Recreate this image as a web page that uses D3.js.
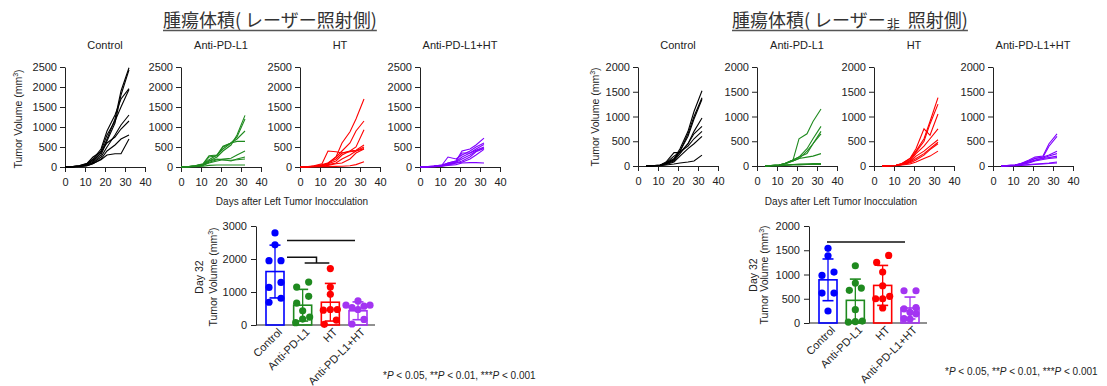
<!DOCTYPE html>
<html>
<head>
<meta charset="utf-8">
<script src="https://cdn.jsdelivr.net/npm/d3@7"></script>
<style>
  body { margin: 0; background: #fff; }
  svg { font-family: "Liberation Sans", Arial, sans-serif; }
</style>
</head>
<body>
<svg id="chart" width="1107" height="386"></svg>
<script>
// ---- data ----
const groups = ["Control", "Anti-PD-L1", "HT", "Anti-PD-L1+HT"];
const dayTicks = [0, 10, 20, 30, 40];
const leftVolTicks = [0, 500, 1000, 1500, 2000, 2500];
const rightVolTicks = [0, 500, 1000, 1500, 2000];
const leftBarTicks = [0, 1000, 2000, 3000];
const rightBarTicks = [0, 500, 1000, 1500, 2000];

const leftDays = [0, 4, 7, 11, 14, 18, 21, 25, 28, 32];
const rightDays = [4, 7, 11, 14, 18, 21, 25, 28, 32];

// laser-irradiated side, one row per mouse
const leftControl = [
  [0, 10, 25, 60, 150, 350, 700, 1200, 1900, 2480],
  [0, 8, 20, 50, 120, 300, 650, 1100, 1800, 2430],
  [0, 12, 30, 80, 200, 450, 900, 1300, 1700, 1960],
  [0, 10, 25, 70, 180, 400, 800, 1150, 1500, 1940],
  [0, 8, 20, 40, 100, 250, 500, 800, 1050, 1300],
  [0, 10, 30, 90, 250, 380, 600, 750, 950, 1150],
  [0, 5, 15, 30, 80, 200, 400, 550, 700, 800],
  [0, 6, 15, 35, 90, 180, 300, 330, 330, 700]
];
const leftAnti = [
  [0, 10, 30, 60, 150, 250, 400, 550, 800, 1290],
  [0, 10, 30, 70, 180, 300, 450, 600, 750, 1200],
  [0, 10, 25, 60, 250, 280, 500, 600, 700, 900],
  [0, 10, 30, 80, 280, 300, 520, 600, 640, 640],
  [0, 8, 20, 50, 120, 180, 200, 220, 300, 400],
  [0, 8, 20, 50, 150, 200, 180, 150, 200, 250],
  [0, 5, 15, 40, 100, 150, 180, 170, 180, 200],
  [0, 5, 10, 20, 40, 50, 50, 50, 50, 50]
];
const leftHT = [
  [0, 10, 20, 40, 80, 250, 600, 880, 1200, 1700],
  [0, 10, 20, 60, 100, 250, 400, 600, 900, 1150],
  [0, 10, 30, 80, 400, 380, 350, 400, 500, 930],
  [0, 8, 20, 40, 80, 150, 300, 400, 420, 550],
  [0, 8, 20, 40, 100, 200, 350, 380, 400, 500],
  [0, 5, 15, 30, 60, 100, 200, 300, 400, 460],
  [0, 5, 10, 20, 40, 80, 100, 200, 350, 450],
  [0, 3, 5, 10, 10, 15, 20, 30, 60, 130]
];
const leftCombo = [
  [0, 10, 25, 50, 100, 150, 400, 450, 550, 720],
  [0, 10, 25, 50, 250, 200, 300, 400, 500, 600],
  [0, 10, 20, 40, 100, 150, 350, 350, 450, 560],
  [0, 8, 20, 40, 80, 130, 250, 350, 420, 500],
  [0, 8, 15, 30, 70, 120, 200, 300, 400, 480],
  [0, 5, 15, 30, 60, 100, 150, 250, 380, 460],
  [0, 5, 10, 25, 50, 100, 120, 200, 300, 440],
  [0, 5, 10, 20, 40, 60, 100, 110, 110, 100]
];

// non-irradiated side
const rightControl = [
  [0, 5, 20, 60, 150, 350, 700, 1100, 1520],
  [0, 5, 20, 50, 120, 300, 650, 1000, 1380],
  [0, 5, 15, 50, 130, 300, 600, 950, 1350],
  [0, 5, 15, 80, 270, 270, 450, 700, 970],
  [0, 5, 15, 40, 100, 250, 450, 650, 800],
  [0, 5, 15, 60, 200, 280, 400, 550, 700],
  [0, 5, 10, 30, 80, 200, 350, 450, 600],
  [0, 3, 5, 20, 40, 60, 80, 100, 220]
];
const rightAnti = [
  [0, 10, 20, 50, 120, 550, 650, 900, 1150],
  [0, 10, 20, 50, 120, 180, 350, 550, 800],
  [0, 10, 20, 50, 100, 150, 300, 450, 700],
  [0, 10, 20, 50, 120, 180, 250, 450, 650],
  [0, 10, 20, 40, 100, 150, 180, 200, 250],
  [0, 5, 10, 20, 30, 40, 40, 50, 50],
  [0, 5, 10, 20, 30, 30, 40, 40, 40],
  [0, 5, 5, 10, 20, 20, 30, 30, 30]
];
const rightHT = [
  [0, 5, 15, 50, 150, 300, 550, 900, 1380],
  [0, 5, 15, 40, 120, 280, 500, 850, 1250],
  [0, 5, 15, 50, 150, 350, 750, 620, 1050],
  [0, 5, 10, 40, 100, 250, 400, 550, 750],
  [0, 5, 10, 30, 80, 200, 300, 400, 530],
  [0, 5, 10, 30, 80, 150, 250, 350, 480],
  [0, 5, 10, 30, 60, 120, 220, 330, 450],
  [0, 3, 8, 20, 40, 80, 150, 200, 300]
];
const rightCombo = [
  [0, 10, 20, 50, 120, 180, 200, 450, 650],
  [0, 10, 20, 50, 100, 150, 180, 400, 600],
  [0, 10, 20, 40, 100, 150, 180, 220, 300],
  [0, 8, 15, 40, 80, 120, 160, 200, 250],
  [0, 8, 15, 30, 70, 110, 150, 170, 200],
  [0, 5, 10, 30, 60, 100, 130, 150, 170],
  [0, 5, 10, 20, 30, 40, 50, 60, 80],
  [0, 3, 5, 10, 20, 30, 40, 50, 60]
];

// day 32 scatter + mean / SD
const leftDay32 = [
  [2790, 2430, 1950, 1950, 1290, 1140, 810, 690],
  [1300, 1150, 870, 660, 430, 240, 180, 70],
  [1710, 1150, 930, 470, 470, 450, 150, 20],
  [730, 600, 600, 570, 530, 470, 170, 30]
];
const leftMean = [1620, 600, 690, 430];
const leftSD = [800, 480, 570, 270];

const rightDay32 = [
  [1540, 1385, 1050, 980, 617, 617, 247],
  [1180, 823, 720, 673, 274, 40, 30, 20],
  [1393, 1249, 1050, 768, 549, 500, 500, 309],
  [665, 665, 320, 290, 220, 190, 90, 80]
];
const rightMean = [890, 467, 775, 309];
const rightSD = [430, 438, 412, 226];

// ---- drawing ----
const lineColors = ["#000000", "#1f8a1f", "#ff0000", "#7f00ff"];
const barColors = ["#0000ff", "#1f8a1f", "#ff0000", "#a334f2"];
const ink = "#222";
const fmt = d3.format("d");

const svg = d3.select("#chart");

function styleAxis(g) {
  g.selectAll("path, line").attr("stroke", ink).attr("stroke-width", 1);
  g.selectAll("text").attr("fill", ink).attr("font-size", 11);
}

function titleJP(x, parts) {
  const t = svg.append("text")
    .attr("x", x).attr("y", 27)
    .attr("font-family", "'Noto Sans CJK JP', sans-serif")
    .attr("font-size", 18).attr("fill", "#333");
  parts.forEach(p => {
    const s = t.append("tspan").text(p.text);
    if (p.small) s.attr("font-size", 13).attr("dy", 2).attr("dx", 1);
    else if (p.after) s.attr("dy", -2).attr("dx", 4);
  });
  const w = t.node().getComputedTextLength();
  svg.append("line")
    .attr("x1", x).attr("x2", x + w + (parts.length > 1 ? 5 : 0))
    .attr("y1", 30.5).attr("y2", 30.5)
    .attr("stroke", "#555").attr("stroke-width", 1.3);
}

function growthPanels(opt) {
  const sets = opt.curves;
  opt.panelX.forEach((x0, gi) => {
    const x = d3.scaleLinear().domain([0, 40]).range([x0, x0 + 80]);
    const y = d3.scaleLinear().domain([0, opt.yMax]).range([opt.bottom, 67]);
    const g = svg.append("g");

    g.append("g")
      .attr("transform", `translate(0,${opt.bottom})`)
      .call(d3.axisBottom(x).tickValues(dayTicks).tickFormat(fmt).tickSize(5).tickSizeOuter(0).tickPadding(6))
      .call(styleAxis);
    g.append("g")
      .attr("transform", `translate(${x0},0)`)
      .call(d3.axisLeft(y).tickValues(opt.yTicks).tickFormat(fmt).tickSize(5).tickSizeOuter(0).tickPadding(3))
      .call(styleAxis);

    const line = d3.line()
      .x((d, i) => x(opt.days[i]))
      .y(d => y(d));
    g.selectAll("path.curve")
      .data(sets[gi])
      .join("path")
      .attr("class", "curve")
      .attr("d", line)
      .attr("fill", "none")
      .attr("stroke", lineColors[gi])
      .attr("stroke-width", 1.1);

    g.append("text")
      .attr("x", x0 + 40).attr("y", 49)
      .attr("text-anchor", "middle")
      .attr("font-size", 11).attr("fill", ink)
      .text(groups[gi]);
  });

  // y label
  const yl = svg.append("text")
    .attr("transform", `translate(${opt.yLabelX},${opt.yLabelY}) rotate(-90)`)
    .attr("text-anchor", "middle")
    .attr("font-size", 10.5).attr("fill", ink);
  yl.append("tspan").text("Tumor Volume (mm");
  yl.append("tspan").attr("font-size", 7).attr("dy", -4).text("3");
  yl.append("tspan").attr("dy", 4).text(")");

  svg.append("text")
    .attr("x", opt.xLabelX).attr("y", 205)
    .attr("text-anchor", "middle")
    .attr("font-size", 10).attr("fill", ink)
    .text("Days after Left Tumor Inocculation");
}

function dodge(values, yScale, cx) {
  // rows of nearly equal points are spread sideways, like a column scatter
  const sorted = values.map(v => ({ v, py: yScale(v) })).sort((a, b) => a.v - b.v);
  const rows = [];
  sorted.forEach(p => {
    const last = rows[rows.length - 1];
    if (last && Math.abs(last[0].py - p.py) < 7) last.push(p);
    else rows.push([p]);
  });
  const out = [];
  rows.forEach(r => {
    if (r.length <= 3) {
      const step = r.length === 2 ? 12 : 7;
      r.forEach((p, i) => out.push({ x: cx + (i - (r.length - 1) / 2) * step, y: p.py }));
    } else {
      const placed = [];
      const cand = [0, -6, 6, -9, 9, -3, 3, -12, 12];
      r.forEach(p => {
        let ox = cand.find(o => placed.every(q => Math.hypot(q.x - o, q.y - p.py) >= 6)) ?? 0;
        placed.push({ x: ox, y: p.py });
        out.push({ x: cx + ox, y: p.py });
      });
    }
  });
  return out;
}

function barChart(opt) {
  const y = d3.scaleLinear().domain([0, opt.yMax]).range([opt.bottom, opt.top]);
  const x = d3.scalePoint().domain(groups).range(opt.centers);
  const g = svg.append("g");
  const bw = 18;

  g.append("g")
    .attr("transform", `translate(0,${opt.bottom})`)
    .call(d3.axisBottom(x).tickSize(0).tickFormat(""))
    .call(ax => ax.select(".domain").attr("d", `M${opt.axisX},0H${opt.axisEnd}`))
    .call(styleAxis);
  g.append("g")
    .attr("transform", `translate(${opt.axisX},0)`)
    .call(d3.axisLeft(y).tickValues(opt.yTicks).tickFormat(fmt).tickSize(5).tickSizeOuter(0).tickPadding(4))
    .call(styleAxis);

  groups.forEach((name, gi) => {
    const cx = x(name);
    const c = barColors[gi];
    const m = opt.mean[gi], s = opt.sd[gi];
    g.append("rect")
      .attr("x", cx - bw / 2).attr("width", bw)
      .attr("y", y(m)).attr("height", y(0) - y(m))
      .attr("fill", "none").attr("stroke", c).attr("stroke-width", 1.6);
    const lo = Math.max(0, m - s), hi = m + s;
    g.append("line").attr("x1", cx).attr("x2", cx)
      .attr("y1", y(lo)).attr("y2", y(hi))
      .attr("stroke", c).attr("stroke-width", 1.3);
    [hi, lo].forEach(v => {
      if (v <= 0) return;
      g.append("line").attr("x1", cx - 5.5).attr("x2", cx + 5.5)
        .attr("y1", y(v)).attr("y2", y(v))
        .attr("stroke", c).attr("stroke-width", 1.6);
    });
    g.selectAll(null)
      .data(dodge(opt.points[gi], y, cx))
      .join("circle")
      .attr("cx", d => d.x).attr("cy", d => d.y)
      .attr("r", 3.6).attr("fill", c);

    g.append("text")
      .attr("transform", `translate(${cx + 5},${opt.bottom + 5}) rotate(-45)`)
      .attr("text-anchor", "end").attr("dy", "0.35em")
      .attr("font-size", 11).attr("fill", ink)
      .text(name);
  });

  // significance bars
  opt.sig.forEach(s => {
    g.append("path")
      .attr("d", s(x, y))
      .attr("fill", "none").attr("stroke", "#111").attr("stroke-width", 1.5);
  });

  const lab = svg.append("g").attr("font-size", 10.5).attr("fill", ink).attr("text-anchor", "middle");
  lab.append("text")
    .attr("transform", `translate(${opt.labelX[0]},${opt.labelY}) rotate(-90)`)
    .text("Day 32");
  const t2 = lab.append("text")
    .attr("transform", `translate(${opt.labelX[1]},${opt.labelY}) rotate(-90)`);
  t2.append("tspan").text("Tumor Volume (mm");
  t2.append("tspan").attr("font-size", 7).attr("dy", -4).text("3");
  t2.append("tspan").attr("dy", 4).text(")");

  const fn = svg.append("text")
    .attr("x", opt.noteX).attr("y", opt.noteY)
    .attr("font-size", 10).attr("fill", ink);
  ["*", "P", " < 0.05, **", "P", " < 0.01, ***", "P", " < 0.001"].forEach(p => {
    const s = fn.append("tspan").text(p);
    if (p === "P") s.attr("font-style", "italic");
  });
}

// titles
titleJP(163, [{ text: "腫瘍体積( レーザー照射側)" }]);
titleJP(732, [{ text: "腫瘍体積( レーザー" }, { text: "非", small: true }, { text: " 照射側)", after: true }]);

growthPanels({
  curves: [leftControl, leftAnti, leftHT, leftCombo],
  days: leftDays,
  panelX: [65, 181, 300, 420],
  bottom: 167, yMax: 2500, yTicks: leftVolTicks,
  yLabelX: 22, yLabelY: 119, xLabelX: 292
});
growthPanels({
  curves: [rightControl, rightAnti, rightHT, rightCombo],
  days: rightDays,
  panelX: [638, 757, 874, 993],
  bottom: 166, yMax: 2000, yTicks: rightVolTicks,
  yLabelX: 599, yLabelY: 117, xLabelX: 841
});

barChart({
  points: leftDay32, mean: leftMean, sd: leftSD,
  yMax: 3000, yTicks: leftBarTicks, top: 226, bottom: 325,
  centers: [275, 358], axisX: 256, axisEnd: 375,
  labelX: [203, 217], labelY: 277,
  noteX: 383, noteY: 379,
  sig: [
    (x, y) => `M${x("Control") + 12},${y(2560)}H${x("Anti-PD-L1+HT") - 3}`,
    (x, y) => {
      const mid = (x("Anti-PD-L1") + x("HT")) / 2;
      return `M${x("Control") + 12},${y(2050)}H${mid}V${y(1880)}` +
             `M${x("Anti-PD-L1") + 2},${y(1880)}H${x("HT") - 1}`;
    }
  ]
});
barChart({
  points: rightDay32, mean: rightMean, sd: rightSD,
  yMax: 2000, yTicks: rightBarTicks, top: 226, bottom: 323,
  centers: [828, 910], axisX: 809, axisEnd: 927,
  labelX: [757, 768], labelY: 275,
  noteX: 945, noteY: 375,
  sig: [
    (x, y) => `M${x("Control") - 1},${y(1670)}H${x("Anti-PD-L1+HT") - 5}`
  ]
});
</script>
</body>
</html>
